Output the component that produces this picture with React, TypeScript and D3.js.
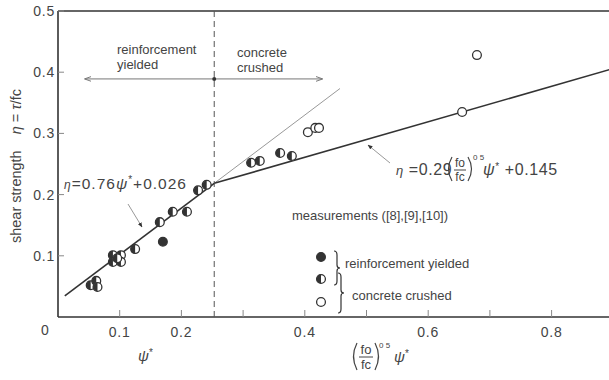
import React from "react";
import * as d3 from "d3";

// ---- data (ψ*, η) ----
const halfPoints: [number, number][] = [
  [0.053, 0.052], [0.062, 0.059], [0.064, 0.049],
  [0.089, 0.101], [0.102, 0.101], [0.089, 0.09], [0.102, 0.09], [0.096, 0.096],
  [0.125, 0.111], [0.165, 0.155], [0.186, 0.172], [0.209, 0.172],
  [0.227, 0.207], [0.241, 0.216],
  [0.313, 0.252], [0.327, 0.255], [0.36, 0.268], [0.379, 0.263],
];
const fullPoints: [number, number][] = [[0.17, 0.123]];
const openPoints: [number, number][] = [
  [0.405, 0.302], [0.417, 0.309], [0.423, 0.309], [0.655, 0.335], [0.679, 0.428],
];

// fits: η = a·x + b
const fit1 = { a: 0.76, b: 0.026, from: 0.011 };
const fit2 = { a: 0.29, b: 0.145, to: 0.9 };
const fit1ExtTo = 0.457;
const boundaryPsi = (fit2.b - fit1.b) / (fit1.a - fit2.a);
const arrowEta = 0.389;
const arrowLeftTo = 0.044;
const arrowRightTo = 0.428;

const xTicks = [0.1, 0.2, 0.3, 0.4, 0.5, 0.6, 0.7, 0.8];
const xTickLabels = [0.1, 0.2, 0.4, 0.6, 0.8];
const yTicks = [0.1, 0.2, 0.3, 0.4, 0.5];

const W = 609, H = 380;
const x = d3.scaleLinear().domain([0, 0.9]).range([58, 613.3]);
const y = d3.scaleLinear().domain([0, 0.5]).range([317, 11]);

const INK = "#333";
const TXT = "#444";
const FONT = "'Liberation Sans', Arial, sans-serif";
const R = 4.4;

function Marker({ cx, cy, kind }: { cx: number; cy: number; kind: string }) {
  if (kind === "full") return <circle cx={cx} cy={cy} r={R} fill={INK} stroke={INK} strokeWidth={1.2} />;
  if (kind === "open") return <circle cx={cx} cy={cy} r={R} fill="#fff" stroke={INK} strokeWidth={1.3} />;
  return (
    <g>
      <circle cx={cx} cy={cy} r={R} fill="#fff" stroke={INK} strokeWidth={1.3} />
      <path d={`M${cx},${cy - R} A${R},${R} 0 0 0 ${cx},${cy + R} Z`} fill={INK} />
    </g>
  );
}

function brace(xp: number, y0: number, y1: number) {
  const ym = (y0 + y1) / 2;
  return `M${xp - 3},${y0} Q${xp},${y0} ${xp},${y0 + 4} L${xp},${ym - 3} Q${xp},${ym} ${xp + 3},${ym} Q${xp},${ym} ${xp},${ym + 3} L${xp},${y1 - 4} Q${xp},${y1} ${xp - 3},${y1}`;
}

// parenthesis drawn as a path (avoids glyph overlap with the fraction)
function paren(xp: number, y0: number, y1: number, right: boolean) {
  const bulge = right ? 3.5 : -3.5;
  const ym = (y0 + y1) / 2;
  return `M${xp},${y0} Q${xp + bulge * 2},${ym} ${xp},${y1}`;
}

export default function App() {
  const line = d3.line<[number, number]>().x((d) => x(d[0])).y((d) => y(d[1]));
  const f1 = (p: number) => fit1.a * p + fit1.b;
  const f2 = (p: number) => fit2.a * p + fit2.b;
  const xb = x(boundaryPsi);
  const ya = y(arrowEta);

  return (
    <svg width={W} height={H} style={{ position: "absolute", left: 0, top: 0, background: "#fff" }} fontFamily={FONT}>
      <defs>
        <marker id="ah" viewBox="0 0 10 10" refX="9" refY="5" markerWidth="7" markerHeight="7" orient="auto-start-reverse">
          <path d="M0,1.5 L10,5 L0,8.5" fill="none" stroke="#777" strokeWidth="1.4" />
        </marker>
        <marker id="ah2" viewBox="0 0 10 10" refX="9" refY="5" markerWidth="5" markerHeight="5" orient="auto">
          <path d="M0,1 L10,5 L0,9 Z" fill={INK} />
        </marker>
      </defs>
      <rect width={W} height={H} fill="#fff" />

      {/* frame */}
      <line x1={x(0)} y1={y(0.5)} x2={W} y2={y(0.5)} stroke={INK} strokeWidth={1.4} />
      <line x1={x(0)} y1={y(0.5)} x2={x(0)} y2={y(0)} stroke={INK} strokeWidth={1.6} />
      <line x1={x(0)} y1={y(0)} x2={W} y2={y(0)} stroke={INK} strokeWidth={1.6} />

      {/* y ticks */}
      {yTicks.map((t) => (
        <g key={"y" + t}>
          <line x1={x(0)} x2={x(0) + 6} y1={y(t)} y2={y(t)} stroke="#888" strokeWidth={1} />
          <text x={x(0) - 3} y={y(t) + 5} textAnchor="end" fontSize={14} fill={TXT} letterSpacing={0.8}>
            {t.toFixed(1)}
          </text>
        </g>
      ))}
      {/* x ticks */}
      {xTicks.map((t) => (
        <line key={"x" + t} x1={x(t)} x2={x(t)} y1={y(0)} y2={y(0) - 7} stroke="#888" strokeWidth={1} />
      ))}
      {xTickLabels.map((t) => (
        <text key={"xl" + t} x={x(t)} y={y(0) + 20} textAnchor="middle" fontSize={14} fill={TXT} letterSpacing={0.8}>
          {t.toFixed(1)}
        </text>
      ))}
      <text x={45} y={y(0) + 18} textAnchor="middle" fontSize={14} fill={TXT}>0</text>

      {/* boundary */}
      <line x1={xb} x2={xb} y1={y(0.5)} y2={y(0)} stroke="#555" strokeWidth={1} strokeDasharray="6,4" />
      <line x1={xb} x2={x(arrowLeftTo)} y1={ya} y2={ya} stroke="#777" strokeWidth={1} markerEnd="url(#ah)" />
      <line x1={xb} x2={x(arrowRightTo)} y1={ya} y2={ya} stroke="#777" strokeWidth={1} markerEnd="url(#ah)" />
      <circle cx={xb} cy={ya} r={2} fill={INK} />
      <text x={117} y={54} fontSize={13} fill={TXT}>
        <tspan x={117}>reinforcement</tspan>
        <tspan x={117} dy={15}>yielded</tspan>
      </text>
      <text x={237} y={57} fontSize={13} fill={TXT}>
        <tspan x={237}>concrete</tspan>
        <tspan x={237} dy={15}>crushed</tspan>
      </text>

      {/* fits */}
      <path d={line([[boundaryPsi, f1(boundaryPsi)], [fit1ExtTo, f1(fit1ExtTo)]]) || ""} stroke="#999" strokeWidth={1} fill="none" />
      <path d={line([[fit1.from, f1(fit1.from)], [boundaryPsi, f1(boundaryPsi)]]) || ""} stroke={INK} strokeWidth={1.6} fill="none" />
      <path d={line([[boundaryPsi, f2(boundaryPsi)], [fit2.to, f2(fit2.to)]]) || ""} stroke={INK} strokeWidth={1.6} fill="none" />

      {/* points */}
      {halfPoints.map((d, i) => <Marker key={"h" + i} cx={x(d[0])} cy={y(d[1])} kind="half" />)}
      {fullPoints.map((d, i) => <Marker key={"f" + i} cx={x(d[0])} cy={y(d[1])} kind="full" />)}
      {openPoints.map((d, i) => <Marker key={"o" + i} cx={x(d[0])} cy={y(d[1])} kind="open" />)}

      {/* formula 1 */}
      <line x1={128} y1={204} x2={142} y2={227} stroke="#999" strokeWidth={1} markerEnd="url(#ah2)" />
      <text x={64} y={189} fontSize={15.5} fill={TXT} letterSpacing={1}>
        <tspan fontStyle="italic" fontSize={12}>η</tspan>
        <tspan>=0.76</tspan>
        <tspan fontStyle="italic">ψ</tspan>
        <tspan fontSize={10} dy={-6}>*</tspan>
        <tspan dy={6}>+0.026</tspan>
      </text>

      {/* formula 2 */}
      <line x1={390} y1={163} x2={368} y2={145} stroke="#999" strokeWidth={1} markerEnd="url(#ah2)" />
      <text x={396} y={175} fontSize={16} fill={TXT} letterSpacing={0.6}>
        <tspan fontStyle="italic" fontSize={13}>η</tspan>
        <tspan> =0.29</tspan>
      </text>
      <path d={paren(452, 157, 181, false)} stroke={TXT} strokeWidth={1.2} fill="none" />
      <text x={460} y={167} fontSize={12} fill={TXT} textAnchor="middle">fo</text>
      <line x1={454} x2={466} y1={170} y2={170} stroke={TXT} strokeWidth={1} />
      <text x={460} y={181} fontSize={12} fill={TXT} textAnchor="middle">fc</text>
      <path d={paren(468, 157, 181, true)} stroke={TXT} strokeWidth={1.2} fill="none" />
      <text x={473} y={160} fontSize={8} fill={TXT}>0 5</text>
      <text x={483} y={175} fontSize={16} fill={TXT} letterSpacing={0.6}>
        <tspan fontStyle="italic">ψ</tspan>
        <tspan fontSize={10} dy={-5}>*</tspan>
        <tspan dy={5}> +0.145</tspan>
      </text>

      {/* legend */}
      <text x={292} y={220} fontSize={13} fill={TXT}>measurements ([8],[9],[10])</text>
      <Marker cx={321} cy={257} kind="full" />
      <Marker cx={321} cy={279} kind="half" />
      <Marker cx={321} cy={302} kind="open" />
      <path d={brace(337, 251, 285)} stroke={INK} strokeWidth={1.2} fill="none" />
      <path d={brace(341, 273, 313)} stroke={INK} strokeWidth={1.2} fill="none" />
      <text x={345} y={268} fontSize={13} fill={TXT}>reinforcement yielded</text>
      <text x={352} y={300} fontSize={13} fill={TXT}>concrete crushed</text>

      {/* axis titles */}
      <text transform="translate(21,166) rotate(-90)" textAnchor="middle" fontSize={14.5} fill={TXT}>
        shear strength<tspan dx={16} fontStyle="italic">η</tspan> = <tspan fontStyle="italic">τ</tspan>/fc
      </text>
      <text x={138} y={361} fontSize={15} fill={TXT}>
        <tspan fontStyle="italic">ψ</tspan>
        <tspan fontSize={10} dy={-5}>*</tspan>
      </text>
      <path d={paren(357, 343, 370, false)} stroke={TXT} strokeWidth={1.2} fill="none" />
      <text x={366} y={354} fontSize={13} fill={TXT} textAnchor="middle">fo</text>
      <line x1={359} x2={373} y1={357} y2={357} stroke={TXT} strokeWidth={1} />
      <text x={366} y={369} fontSize={13} fill={TXT} textAnchor="middle">fc</text>
      <path d={paren(375, 343, 370, true)} stroke={TXT} strokeWidth={1.2} fill="none" />
      <text x={379} y={348} fontSize={8} fill={TXT}>0 5</text>
      <text x={394} y={362} fontSize={15} fill={TXT}>
        <tspan fontStyle="italic">ψ</tspan>
        <tspan fontSize={10} dy={-5}>*</tspan>
      </text>
    </svg>
  );
}
